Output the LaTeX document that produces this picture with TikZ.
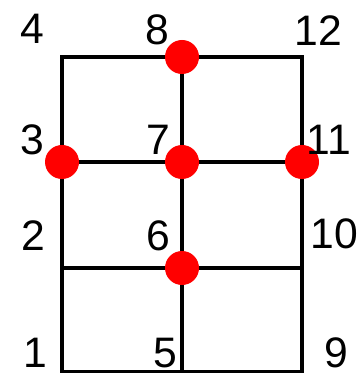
\documentclass[tikz,border=0pt]{standalone}
\usepackage{fontspec}
\setmainfont{Liberation Sans}
\usepackage{tikz}
\definecolor{cred}{HTML}{FF0000}
\tikzset{
  gridline/.style={line width=3pt,line cap=rect},
  dot/.style={circle,fill=cred,inner sep=0pt,minimum size=25.5pt},
  lbl/.style={font=\fontsize{32}{32}\selectfont,inner sep=0pt,anchor=center},
}

\begin{document}
\begin{tikzpicture}[x=0.75pt,y=-0.75pt]
\useasboundingbox (0,0) rectangle (360,373);

% grid points
\foreach \n/\x/\y in {1/62/372,2/62/268,3/62/162,4/62/57,
                      5/182/372,6/182/268,7/182/162,8/182/57,
                      9/302/372,10/302/268,11/302/162,12/302/57}
  \coordinate (p\n) at (\x,\y);

\draw[gridline] (p4) -- (p12) -- (p9) -- (p1) -- cycle;
\foreach \a/\b in {p8/p5,p3/p11,p2/p10}
  \draw[gridline] (\a) -- (\b);

% marked points
\foreach \n in {8,3,7,11,6}
  \node[dot] (d\n) at (p\n) {};

% numbers
\foreach \n/\x/\y in {1/35/353,2/33/236,3/32.5/140,4/32/29,
                      5/165/353,6/158.5/236,7/158/140,8/157.5/30,
                      9/336.5/353,10/334/234,11/329/140,12/318/31}
  \node[lbl] (t\n) at (\x,\y) {\n};

\end{tikzpicture}
\end{document}
